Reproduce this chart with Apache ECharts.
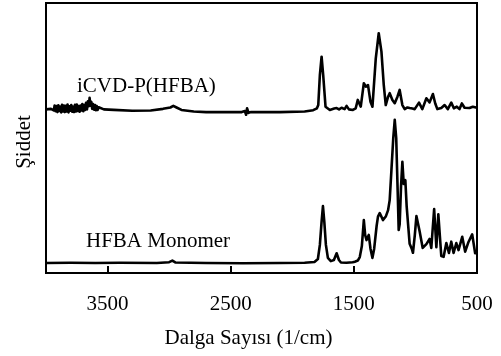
<!DOCTYPE html>
<html>
<head>
<meta charset="utf-8">
<script src="https://cdn.jsdelivr.net/npm/echarts@6/dist/echarts.min.js"></script>
<style>
  html, body { margin: 0; padding: 0; background: #fff; }
  #chart { width: 501px; height: 356px; }
</style>
</head>
<body>
<div id="chart"></div>
<script>
// FTIR spectra: wavenumber (1/cm) and stacked intensity (arbitrary units)
const polyName = 'iCVD-P(HFBA)';
const polyWn = [4000, 3985, 3960, 3945, 3937, 3930, 3922, 3915, 3907, 3900, 3892, 3885, 3877, 3870, 3862, 3855, 3847, 3840, 3832, 3825, 3817, 3810, 3802, 3795, 3787, 3780, 3772, 3765, 3757, 3750, 3742, 3735, 3727, 3720, 3712, 3705, 3697, 3690, 3682, 3675, 3667, 3660, 3652, 3646, 3640, 3632, 3625, 3618, 3610, 3602, 3595, 3588, 3580, 3572, 3560, 3530, 3450, 3300, 3150, 3050, 2990, 2966, 2940, 2900, 2800, 2700, 2500, 2410, 2385, 2375, 2367, 2355, 2335, 2100, 1900, 1830, 1800, 1789, 1776, 1762, 1749, 1730, 1695, 1660, 1640, 1620, 1600, 1575, 1559, 1540, 1508, 1485, 1468, 1444, 1419, 1403, 1385, 1365, 1349, 1322, 1298, 1276, 1257, 1241, 1222, 1209, 1187, 1168, 1146, 1128, 1106, 1087, 1065, 1047, 1025, 1006, 971, 944, 911, 885, 858, 839, 822, 790, 763, 737, 709, 688, 664, 642, 623, 601, 561, 534, 500];
const polyInt = [60.6, 61.0, 60.8, 61.4, 60.2, 62.0, 59.9, 61.8, 59.6, 62.1, 60.0, 61.6, 59.5, 62.3, 59.8, 62.0, 59.6, 61.9, 59.8, 62.4, 59.5, 61.7, 60.1, 62.2, 59.7, 61.6, 59.6, 62.3, 59.8, 62.4, 60.0, 61.8, 59.7, 62.0, 60.2, 62.6, 59.9, 62.2, 60.4, 63.0, 60.6, 63.6, 61.8, 64.9, 62.0, 63.4, 60.8, 62.6, 60.5, 62.2, 60.3, 61.8, 60.4, 61.4, 60.8, 60.6, 60.4, 60.1, 60.2, 60.8, 61.3, 61.9, 61.3, 60.4, 59.8, 59.6, 59.6, 59.6, 60.0, 58.6, 61.0, 59.3, 59.6, 59.6, 59.8, 60.3, 61.0, 62.2, 73.3, 80.1, 73.3, 61.6, 60.4, 60.9, 61.1, 60.6, 61.2, 60.7, 61.9, 60.6, 60.4, 61.0, 64.1, 61.6, 70.3, 69.0, 69.6, 63.4, 61.6, 79.5, 88.8, 82.0, 69.6, 62.2, 65.3, 66.6, 64.1, 62.9, 65.3, 67.8, 62.2, 60.7, 61.3, 61.1, 60.9, 60.7, 63.1, 60.7, 64.7, 63.2, 66.3, 62.8, 60.7, 61.1, 62.2, 60.7, 63.1, 61.0, 61.6, 60.7, 62.8, 61.2, 61.1, 61.6, 61.2];

const monoName = 'HFBA Monomer';
const monoWn = [4000, 3800, 3600, 3400, 3100, 3000, 2974, 2950, 2700, 2400, 2100, 1900, 1820, 1792, 1776, 1762, 1751, 1740, 1727, 1711, 1687, 1662, 1640, 1621, 1605, 1560, 1510, 1492, 1468, 1452, 1435, 1419, 1408, 1397, 1379, 1365, 1349, 1335, 1315, 1304, 1290, 1263, 1241, 1222, 1209, 1195, 1180, 1168, 1156, 1144, 1136, 1128, 1117, 1106, 1095, 1082, 1071, 1047, 1030, 1020, 1005, 992, 966, 941, 911, 885, 871, 848, 830, 814, 790, 771, 749, 728, 709, 690, 668, 650, 620, 596, 569, 539, 515, 500];
const monoInt = [3.7, 3.8, 3.7, 3.8, 3.7, 4.0, 4.6, 3.9, 3.7, 3.6, 3.7, 3.8, 4.1, 5.2, 10.4, 19.0, 24.8, 19.0, 10.4, 5.6, 4.4, 4.8, 7.3, 4.8, 3.9, 3.8, 4.0, 4.2, 4.6, 5.9, 10.0, 19.6, 14.0, 12.2, 14.1, 9.0, 5.6, 9.0, 17.5, 20.9, 22.2, 19.6, 20.9, 23.3, 27.0, 38.0, 50.0, 56.7, 50.0, 30.0, 15.9, 18.0, 32.0, 41.2, 33.0, 34.4, 24.6, 10.8, 9.0, 7.5, 14.0, 21.1, 15.5, 9.3, 10.7, 12.6, 9.3, 23.7, 9.6, 21.7, 6.3, 6.0, 11.1, 7.4, 11.6, 7.4, 11.1, 8.5, 13.4, 7.9, 11.5, 14.3, 7.3, 8.0];

const xTickLabels = [3500, 2500, 1500, 500];
const xTitle = 'Dalga Sayısı (1/cm)';
const yTitle = 'Şiddet';

const serif = "'Times New Roman', 'Liberation Serif', 'DejaVu Serif', serif";
const zip = (xs, ys) => xs.map((x, i) => [x, ys[i]]);

const chart = echarts.init(document.getElementById('chart'), null, { renderer: 'canvas' });

const lineSeries = (name, data) => ({
  name: name,
  type: 'line',
  data: data,
  showSymbol: false,
  symbol: 'none',
  smooth: false,
  lineStyle: { color: '#000', width: 2.6, join: 'round' },
  silent: true,
  animation: false
});

chart.setOption({
  animation: false,
  backgroundColor: '#fff',
  grid: {
    left: 46, right: 24, top: 3, bottom: 83,
    show: true, borderColor: '#000', borderWidth: 2, backgroundColor: 'transparent'
  },
  xAxis: {
    type: 'value',
    min: 500, max: 4000, interval: 1000,
    inverse: true,
    name: xTitle,
    nameLocation: 'middle',
    nameGap: 55,
    nameTextStyle: { fontFamily: serif, fontSize: 21, color: '#000', padding: [0, 26, 0, 0] },
    axisLine: { show: true, lineStyle: { color: '#000', width: 2 } },
    axisTick: { show: true, inside: true, length: 7, lineStyle: { color: '#000', width: 2 } },
    axisLabel: {
      fontFamily: serif, fontSize: 21, color: '#000', margin: 21,
      formatter: v => (xTickLabels.indexOf(v) >= 0 ? String(v) : '')
    },
    splitLine: { show: false }
  },
  yAxis: {
    type: 'value',
    min: 0, max: 100,
    name: yTitle,
    nameLocation: 'middle',
    nameGap: 11,
    nameRotate: 90,
    nameTextStyle: { fontFamily: serif, fontSize: 21, color: '#000', padding: [0, 8, 0, 0] },
    axisLine: { show: true, lineStyle: { color: '#000', width: 2 } },
    axisTick: { show: false },
    axisLabel: { show: false },
    splitLine: { show: false }
  },
  graphic: [
    {
      type: 'text', left: 77, top: 76,
      style: { text: polyName, font: '21px ' + serif, fill: '#000' }
    },
    {
      type: 'text', left: 86, top: 231,
      style: { text: monoName, font: '21px ' + serif, fill: '#000' }
    }
  ],
  series: [
    lineSeries(polyName, zip(polyWn, polyInt)),
    lineSeries(monoName, zip(monoWn, monoInt))
  ]
});
</script>
</body>
</html>
